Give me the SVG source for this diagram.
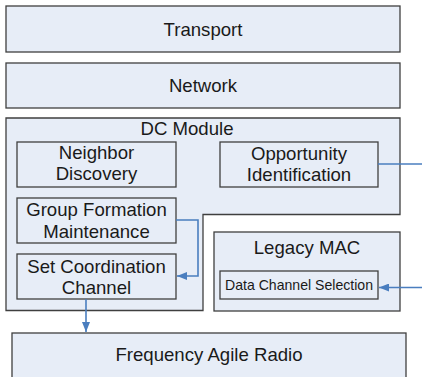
<svg xmlns="http://www.w3.org/2000/svg" width="422" height="377" viewBox="0 0 422 377">
<defs>
<style>
.box{fill:#e7edf7;stroke:#3f3f3f;stroke-width:1.3}
.t{font-family:"Liberation Sans",Arial,sans-serif;font-size:18.6px;fill:#1a1a1a;text-anchor:middle}
.s{font-family:"Liberation Sans",Arial,sans-serif;font-size:14.1px;fill:#1a1a1a;text-anchor:middle}
.c{fill:none;stroke:#4a7ebf;stroke-width:1.6}
</style>
<marker id="ah" viewBox="0 0 10 8" refX="10" refY="4" markerWidth="10" markerHeight="8" markerUnits="userSpaceOnUse" orient="auto">
<path d="M0,0 L10,4 L0,8 Z" fill="#4a7ebf"/>
</marker>
</defs>
<rect width="422" height="377" fill="#ffffff"/>
<g id="transport"><rect class="box" x="6" y="6" width="394" height="46"/><text class="t" x="203" y="35.5">Transport</text></g>
<g id="network"><rect class="box" x="6" y="63" width="394" height="45"/><text class="t" x="203" y="91.5">Network</text></g>
<g id="dc-module"><path class="box" d="M6,118 H400 V214.5 H203 V310.5 H6 Z"/><text class="t" x="187" y="135">DC Module</text></g>
<g id="neighbor-discovery"><rect class="box" x="17" y="142" width="159" height="45"/><text class="t" x="96.5" y="159">Neighbor</text><text class="t" x="96.5" y="180">Discovery</text></g>
<g id="opportunity-identification"><rect class="box" x="220" y="142" width="158" height="45"/><text class="t" x="299" y="159.5">Opportunity</text><text class="t" x="299" y="180.5">Identification</text></g>
<g id="group-formation"><rect class="box" x="17" y="198" width="159" height="45"/><text class="t" x="96.5" y="216">Group Formation</text><text class="t" x="96.5" y="237.5">Maintenance</text></g>
<g id="set-coordination"><rect class="box" x="17" y="254" width="159" height="45"/><text class="t" x="96.5" y="272.5">Set Coordination</text><text class="t" x="96.5" y="293.5">Channel</text></g>
<g id="legacy-mac"><rect class="box" x="214" y="232" width="186" height="79"/><text class="t" x="307" y="254">Legacy MAC</text></g>
<g id="data-channel-selection"><rect class="box" x="220" y="271" width="158" height="28"/><text class="s" x="299" y="289.5">Data Channel Selection</text></g>
<g id="frequency-agile-radio"><rect class="box" x="12" y="333" width="394" height="60"/><text class="t" x="209" y="360.5">Frequency Agile Radio</text></g>
<g id="connectors">
<path class="c" d="M378,164 H423"/>
<path class="c" d="M423,287.5 H379" marker-end="url(#ah)"/>
<path class="c" d="M176,220 H198 V276 H177" marker-end="url(#ah)"/>
<path class="c" d="M86,299 V332" marker-end="url(#ah)"/>
</g>
</svg>
